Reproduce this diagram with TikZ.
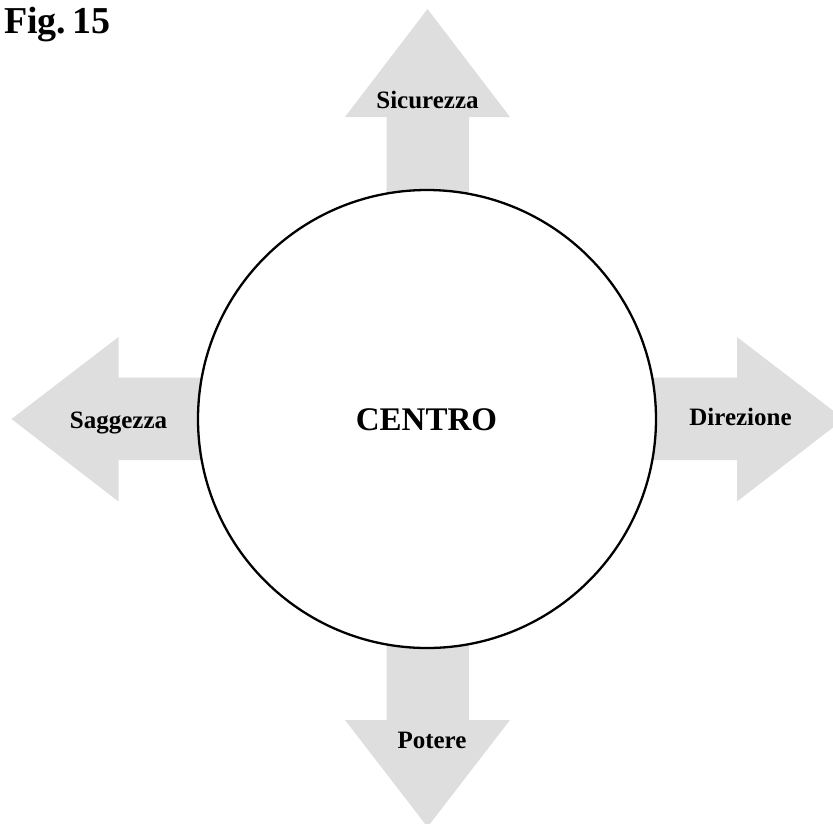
\documentclass[tikz,border=0pt]{standalone}
\usepackage{fontspec}
\newfontfamily\tnr{Liberation Serif}
\begin{document}
\begin{tikzpicture}[x=1pt,y=-1pt,
  dirarrow/.style={fill=black!13,draw=none},
  dirlabel/.style={font=\tnr\bfseries\fontsize{25}{25}\selectfont,inner sep=0pt,anchor=base},
  hub/.style={circle,draw=black,line width=2.3pt,fill=white,minimum size=458pt,inner sep=0pt}]
  \useasboundingbox (0,0) rectangle (833,823);
  % four wide block arrows leaving the centre
  \fill[dirarrow] (386.5,419) -- (386.5,117) -- (345,117) -- (427.5,9) -- (510,117) -- (469,117) -- (469,419) -- cycle;
  \fill[dirarrow] (386.5,419) -- (386.5,720) -- (345,720) -- (427.5,827) -- (510,720) -- (469,720) -- (469,419) -- cycle;
  \fill[dirarrow] (427,377.5) -- (118.5,377.5) -- (118.5,337) -- (11.5,419) -- (118.5,501.5) -- (118.5,460) -- (427,460) -- cycle;
  \fill[dirarrow] (427,377.5) -- (737,377.5) -- (737,337) -- (844,419) -- (737,501.5) -- (737,460) -- (427,460) -- cycle;
  % central circle
  \node[hub] (centro) at (427,419) {};
  \node[font=\tnr\bfseries\fontsize{33}{33}\selectfont,inner sep=0pt,anchor=base] (ctext) at (426.5,430) {CENTRO};
  % arrow labels
  \node[dirlabel] (sicurezza) at (427.5,108) {Sicurezza};
  \node[dirlabel] (saggezza) at (118.5,428) {Saggezza};
  \node[dirlabel] (direzione) at (740.5,425) {Direzione};
  \node[dirlabel] (potere) at (432,748) {Potere};
  % caption
  \node[font=\tnr\bfseries\fontsize{38}{38}\selectfont,inner sep=0pt,anchor=base west] (fig) at (4,33) {Fig.\hspace{0.17em}15};
\end{tikzpicture}
\end{document}
